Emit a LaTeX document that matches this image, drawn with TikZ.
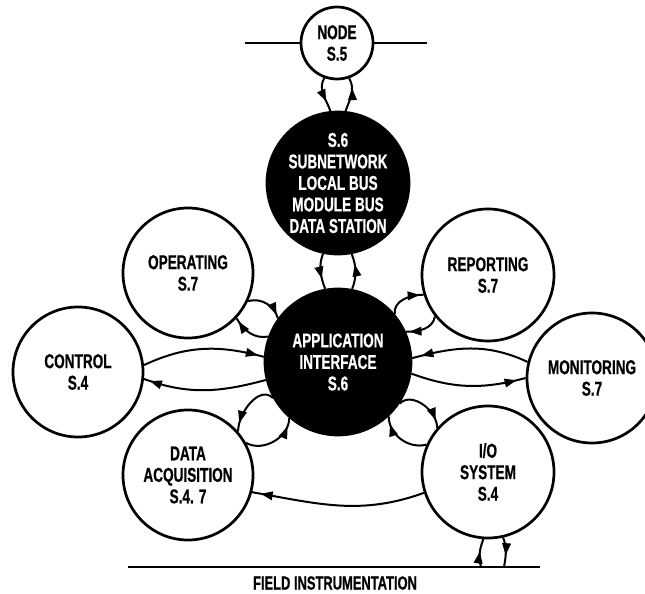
\documentclass[tikz,border=0pt]{standalone}
\usepackage{fontspec}
\newfontfamily\labfont{Liberation Sans}[FakeStretch=0.68, BoldFeatures={FakeBold=0.6}]
\usetikzlibrary{arrows.meta,decorations.markings}

\begin{document}
\begin{tikzpicture}[x=1pt,y=-1pt,
  ring/.style={circle, draw, line width=2.7pt, inner sep=0pt, minimum size=#1,
    align=center, font=\labfont\bfseries\fontsize{20}{21.5}\selectfont},
  blackdisc/.style={ring=#1, fill=black, text=white},
  link/.style={line width=2pt},
  tipat/.style={postaction={decorate}, decoration={markings,
    mark=at position #1 with {\arrow{Triangle[length=12pt,width=8.5pt]}}}},
  caption/.style={font=\labfont\bfseries\fontsize{19}{21.5}\selectfont}
]
\useasboundingbox (0,0) rectangle (645,594);
\clip (0,0) rectangle (645,594);

% circles
\node[ring=72]        (n5)   at (337,43)  {NODE\\S.5};
\node[blackdisc=142]  (sub)  at (338,183) {S.6\\SUBNETWORK\\LOCAL BUS\\MODULE BUS\\DATA STATION};
\node[blackdisc=146]  (app)  at (338,362) {APPLICATION\\INTERFACE\\S.6};
\node[ring=130]       (oper) at (188,273) {OPERATING\\S.7};
\node[ring=132]       (rep)  at (488,275) {REPORTING\\S.7};
\node[ring=130]       (ctrl) at (78,372)  {CONTROL\\S.4};
\node[ring=130]       (mon)  at (592,378) {MONITORING\\S.7};
\node[ring=130]       (daq)  at (188,475) {DATA\\ACQUISITION\\S.4. 7};
\node[ring=132]       (io)   at (488,472) {I/O\\SYSTEM\\S.4};

% network line through the node
\coordinate (tl) at (245,43);
\coordinate (tr) at (427,43);
\draw[link] (tl) -- (n5);
\draw[link] (n5) -- (tr);

% field instrumentation line
\coordinate (fl) at (128,567);
\coordinate (fr) at (540,567);
\coordinate (f1) at (481,567);
\coordinate (f2) at (504,567);
\draw[line width=2.4pt] (fl) -- (fr);
\node[caption] (fieldlab) at (335,583) {FIELD INSTRUMENTATION};

% node <-> subnetwork
\draw[link, tipat=0.7] (n5.250) to[out=240,in=110] (sub.96);
\draw[link, tipat=0.7] (sub.84) to[out=70,in=300] (n5.289);

% subnetwork <-> application interface
\draw[link, tipat=0.7] (sub.258) to[out=250,in=110] (app.100);
\draw[link, tipat=0.7] (app.79) to[out=70,in=290] (sub.281);

% operating <-> application interface
\draw[link, tipat=0.9] (oper.-25) to[out=15,in=105] (app.144);
\draw[link, tipat=0.9] (app.160) to[out=190,in=-60] (oper.-43);

% reporting <-> application interface
\draw[link, tipat=0.9] (app.40) to[out=100,in=180] (rep.197);
\draw[link, tipat=0.9] (rep.218) to[out=260,in=0] (app.24);

% control <-> application interface
\draw[link, tipat=0.95] (ctrl.6) to[out=25,in=165] (app.176);
\draw[link, tipat=0.95] (app.194) to[out=195,in=-20] (ctrl.-6);

% monitoring <-> application interface
\draw[link, tipat=0.92] (mon.166) to[out=155,in=15] (app.3);
\draw[link, tipat=0.92] (app.-9) to[out=-20,in=195] (mon.180);

% application interface <-> I/O system
\draw[link, tipat=0.85] (app.-34) to[out=45,in=90] (io.139);
\draw[link, tipat=0.85] (io.156) to[out=195,in=-90] (app.-47);

% application interface <-> data acquisition
\draw[link, tipat=0.85] (app.209) to[out=135,in=90] (daq.41);
\draw[link, tipat=0.85] (daq.29) to[out=-30,in=-90] (app.229);

% I/O system -> data acquisition
\draw[link, tipat=0.95] (io.198) to[out=200,in=-10] (daq.-15);

% I/O system <-> field instrumentation
\draw[link, tipat=0.55] (f1) to[out=105,in=250] (io.266);
\draw[link, tipat=0.6] (io.283) to[out=-70,in=80] (f2);
\end{tikzpicture}
\end{document}
